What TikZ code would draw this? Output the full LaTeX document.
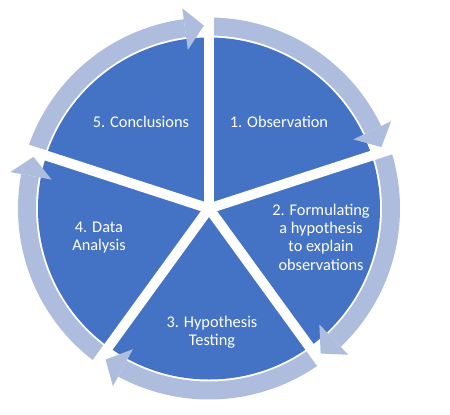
\documentclass[tikz,border=0pt]{standalone}
\usepackage{fontspec}
\setmainfont{Carlito}
\definecolor{slice}{RGB}{68,114,196}
\definecolor{ring}{RGB}{174,188,222}

\begin{document}
\begin{tikzpicture}[x=0.02cm, y=0.02cm,
  every node/.style={text=white, align=center, font=\fontsize{9.3}{10.4}\selectfont},
  gap/.style={white, line width=0.2cm}]
\useasboundingbox (-209,-205.5) rectangle (241,208.5);
\fill[slice] (0,0) circle[radius=171];
% cycle arrows
\foreach \g in {90,18,-54,-126,162} {
  \pgfmathsetmacro{\b}{\g-64.4}
  \pgfmathsetmacro{\t}{\g-70.4}
  \fill[ring] (\g:191) arc[start angle=\g, end angle=\b, radius=191]
    -- (\b:173) arc[start angle=\b, end angle=\g, radius=173] -- cycle;
  \fill[ring] (\b:160) -- (\b:202) -- (\t:183) -- cycle;
}
% gaps between slices
\foreach \g in {90,18,-54,-126,162}
  \draw[gap] (0,0) -- (\g:215);
\node (obs) at (70,86.5) {1. Observation};
\node (hyp) at (112,-28.5) {2. Formulating\\a hypothesis\\to explain\\observations};
\node (test) at (3,-124) {3. Hypothesis\\Testing};
\node (data) at (-110,-29) {4. Data\\Analysis};
\node (concl) at (-68,86.5) {5. Conclusions};
\end{tikzpicture}
\end{document}
